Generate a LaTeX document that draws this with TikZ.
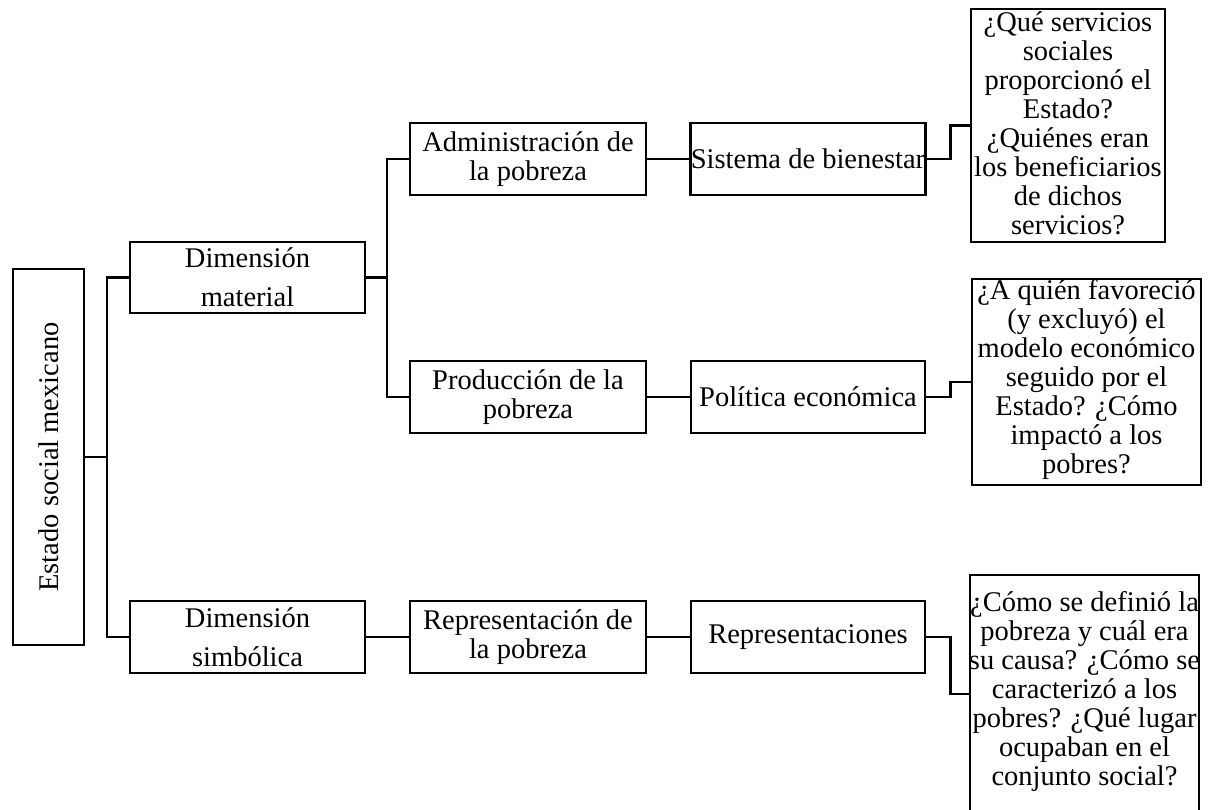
\documentclass[tikz,border=0pt]{standalone}
\usepackage{fontspec}
\setmainfont{Liberation Serif}
\begin{document}
\begin{tikzpicture}[x=1pt,y=-1pt,
  lw/.style={line width=2.8pt},
  fs/.style={font=\fontsize{28.5}{29}\selectfont},
  box/.style={draw,lw,fs,rectangle,inner sep=0pt,align=center,minimum width=#1},
  box/.default=235pt,
  txt/.style={fs,inner sep=0pt,align=center},
  conn/.style={lw,line join=miter}]
\useasboundingbox (0,0) rectangle (1220,809);
\clip (0,0) rectangle (1220,809);
% root
\node[draw,lw,rectangle,minimum width=71pt,minimum height=376pt,inner sep=0pt] (root) at (48.5,457) {};
\node[txt,rotate=90] (roott) at (root.center) {Estado social mexicano};
% level 1
\node[box=235pt,minimum height=71pt,font=\fontsize{28.5}{39}\selectfont] (dm) at (247.5,277.5) {Dimensión\\material};
\node[box=235pt,minimum height=72pt,font=\fontsize{28.5}{39}\selectfont] (ds) at (247.5,637) {Dimensión\\simbólica};
% level 2
\node[box=236pt,minimum height=72pt] (adm) at (528,159) {Administración de\\la pobreza};
\node[box=236pt,minimum height=72pt] (prod) at (528,397) {Producción de la\\pobreza};
\node[box=236pt,minimum height=72pt] (rep) at (528,637) {Representación de\\la pobreza};
% level 3
\node[box=234pt,minimum height=72pt] (sis) at (808,159) {Sistema de bienestar};
\node[box=234pt,minimum height=72pt] (pol) at (808,397) {Política económica};
\node[box=234pt,minimum height=72pt] (reps) at (808,637) {Representaciones};
% question boxes
\node[draw,lw,rectangle,minimum width=194pt,minimum height=233pt,inner sep=0pt] (q1) at (1068,125.5) {};
\node[txt] (q1t) at ([yshift=2pt]q1.center) {¿Qué servicios\\sociales\\proporcionó el\\Estado?\\¿Quiénes eran\\los beneficiarios\\de dichos\\servicios?};
\node[draw,lw,rectangle,minimum width=229pt,minimum height=206pt,inner sep=0pt] (q2) at (1086.5,382) {};
\node[txt] (q2t) at ([yshift=3pt]q2.center) {¿A quién favoreció\\(y excluyó) el\\modelo económico\\seguido por el\\Estado? ¿Cómo\\impactó a los\\pobres?};
\node[draw,lw,rectangle,minimum width=229pt,minimum height=238pt,inner sep=0pt] (q3) at (1084.5,694) {};
\node[txt] (q3t) at ([yshift=3pt]q3.center) {¿Cómo se definió la\\pobreza y cuál era\\su causa? ¿Cómo se\\caracterizó a los\\pobres? ¿Qué lugar\\ocupaban en el\\conjunto social?};
% connectors
\coordinate (j1) at (107,457);
\coordinate (j2) at (387,277.5);
\draw[conn] (root.east) -- (j1);
\draw[conn] (dm.west) -- (dm.west -| j1) -- (ds.west -| j1) -- (ds.west);
\draw[conn] (dm.east) -- (j2);
\draw[conn] (adm.west) -- (adm.west -| j2) -- (prod.west -| j2) -- (prod.west);
\draw[conn] (ds.east) -- (rep.west);
\draw[conn] (adm.east) -- (sis.west);
\draw[conn] (prod.east) -- (pol.west);
\draw[conn] (rep.east) -- (reps.west);
\draw[conn] (sis.east) -- ++(24,0) |- (q1.west);
\draw[conn] (pol.east) -- ++(24,0) |- (q2.west);
\draw[conn] (reps.east) -- ++(24,0) |- (q3.west);
\end{tikzpicture}
\end{document}
